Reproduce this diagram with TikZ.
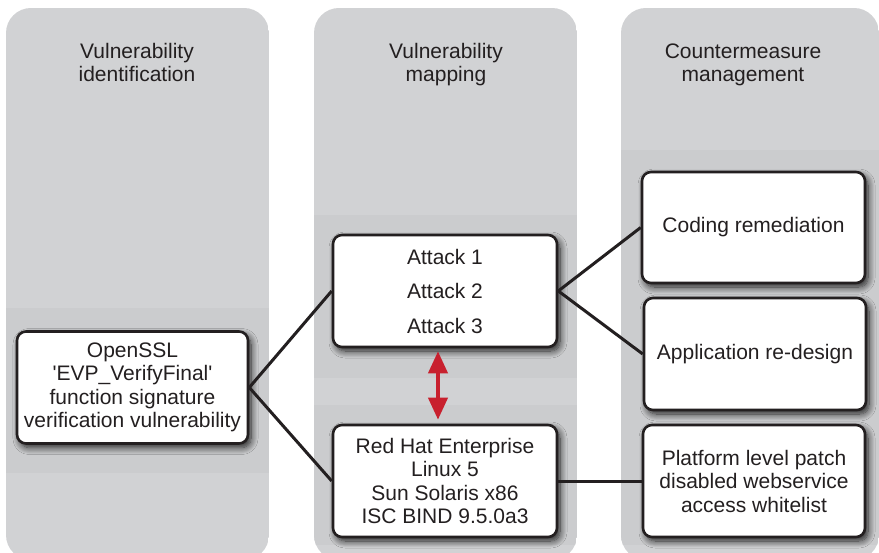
\documentclass[tikz,border=0pt]{standalone}
\usepackage{fontspec}
\setmainfont{Liberation Sans}
\usetikzlibrary{shadows.blur,arrows.meta,calc}
\definecolor{colbg}{RGB}{209,210,212}
\definecolor{bandbg}{RGB}{203,204,206}
\definecolor{ink}{RGB}{35,31,32}
\definecolor{arrowred}{RGB}{200,32,46}
\tikzset{
  column/.style={fill=colbg, rounded corners=25pt},
  band/.style={fill=bandbg},
  header/.style={align=center, text=ink, font=\fontsize{21}{23}\selectfont,
    anchor=north, inner sep=0pt},
  itembox/.style={draw=ink, line width=2.6pt, fill=white, rounded corners=9pt,
    align=center, text=ink, font=\fontsize{21}{23.5}\selectfont, inner sep=0pt,
    blur shadow={shadow xshift=3pt, shadow yshift=-4pt, shadow blur radius=7pt,
      shadow blur steps=10, shadow opacity=85}},
  link/.style={draw=ink, line width=3pt},
  redarrow/.style={draw=arrowred, line width=4pt,
    {Triangle[width=19pt,length=22pt]}-{Triangle[width=19pt,length=22pt]}}
}
\begin{document}
\begin{tikzpicture}[x=1pt,y=-1pt]
\useasboundingbox (0,0) rectangle (879,553);
\fill[white] (0,0) rectangle (879,553);
% columns
\begin{scope}
  \clip[rounded corners=25pt] (6,8) rectangle (269,560);
  \fill[colbg] (6,8) rectangle (269,560);
  \fill[band] (6,308) rectangle (269,473);
\end{scope}
\begin{scope}
  \clip[rounded corners=25pt] (314,8) rectangle (577,560);
  \fill[colbg] (314,8) rectangle (577,560);
  \fill[band] (314,215) rectangle (577,378);
  \fill[band] (314,405) rectangle (577,545);
\end{scope}
\begin{scope}
  \clip[rounded corners=25pt] (621,8) rectangle (879,560);
  \fill[colbg] (621,8) rectangle (879,560);
  \fill[band] (621,150) rectangle (879,545);
\end{scope}
% headers
\node[header] (h1) at (137,43) {Vulnerability\\identification};
\node[header] (h2) at (446,43) {Vulnerability\\mapping};
\node[header] (h3) at (743,43.5) {Countermeasure\\management};
% boxes
\node[itembox, minimum width=231pt, minimum height=112pt] (openssl) at (132.5,387.5)
  {OpenSSL\\\textquotesingle EVP\_VerifyFinal\textquotesingle\\function signature\\verification vulnerability};
\node[itembox, minimum width=224pt, minimum height=112pt,
  font=\fontsize{21}{34.5}\selectfont] (attack) at (445,291)
  {Attack 1\\Attack 2\\Attack 3};
\node[itembox, minimum width=224pt, minimum height=112pt] (redhat) at (445,481)
  {Red Hat Enterprise\\Linux 5\\Sun Solaris x86\\ISC BIND 9.5.0a3};
\node[itembox, minimum width=223pt, minimum height=111pt] (coding) at (753.5,227.5)
  {Coding remediation};
\node[itembox, minimum width=222pt, minimum height=112pt] (appl) at (755,354)
  {Application re-design};
\node[itembox, minimum width=222pt, minimum height=112pt] (platform) at (754,481)
  {Platform level patch\\disabled webservice\\access whitelist};
% connectors
\draw[link] (openssl.east) -- (attack.west);
\draw[link] (openssl.east) -- (redhat.west);
\draw[link] (attack.east) -- (coding.west);
\draw[link] (attack.east) -- (appl.west);
\draw[link] (redhat.east) -- (platform.west);
% red double arrow
\coordinate (atop) at ($(attack.south)+(-7,3)$);
\coordinate (abot) at ($(redhat.north)+(-7,-4)$);
\draw[redarrow] (atop) -- (abot);
\end{tikzpicture}
\end{document}
